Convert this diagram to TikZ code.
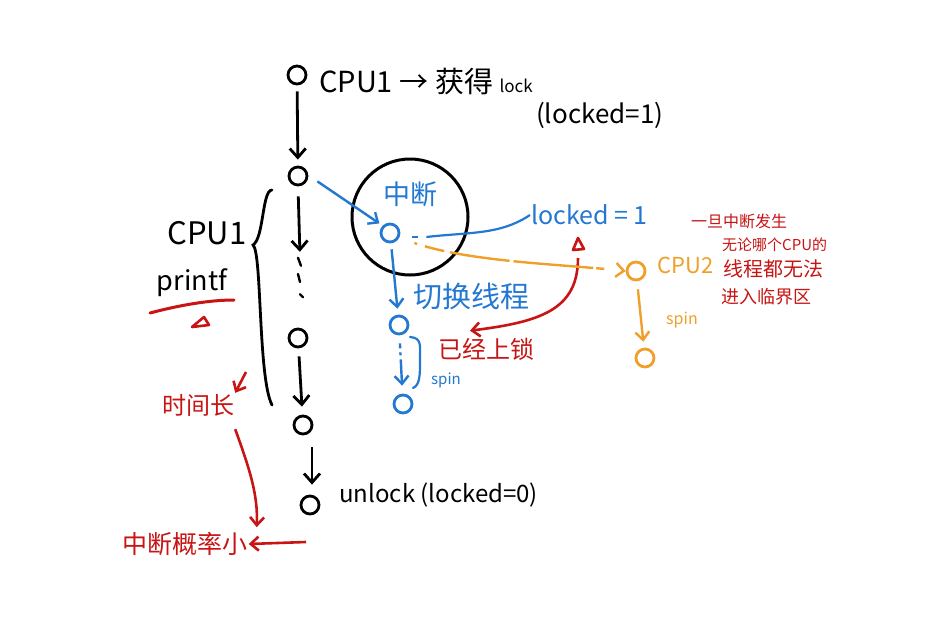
\documentclass[tikz,border=0pt]{standalone}
\usepackage{fontspec}
\newfontfamily\cjk{Noto Sans CJK SC}
\usetikzlibrary{arrows.meta,calc}
\definecolor{hblue}{RGB}{35,120,210}
\definecolor{horange}{RGB}{240,160,40}
\definecolor{hred}{RGB}{200,20,20}
\begin{document}
\begin{tikzpicture}[x=1pt,y=-1pt,
  every node/.style={font=\cjk, inner sep=1pt},
  pt/.style={draw, circle, line width=2.8pt, minimum size=18pt, inner sep=0pt},
  bpt/.style={pt, black},
  blpt/.style={pt, hblue},
  orpt/.style={pt, horange},
  barr/.style={draw=black, line width=2.8pt, -{Straight Barb[length=9pt,width=16pt]}},
  blarr/.style={draw=hblue, line width=2.4pt, -{Straight Barb[length=8pt,width=14pt]}},
  orarr/.style={draw=horange, line width=2.4pt, -{Straight Barb[length=8pt,width=14pt]}},
  rdarr/.style={draw=hred, line width=2.6pt, -{Straight Barb[length=8pt,width=14pt]}},
  blk/.style={text=black, font=\cjk\fontsize{24}{28}\selectfont},
  blu/.style={text=hblue, font=\cjk\fontsize{22}{26}\selectfont},
  org/.style={text=horange, font=\cjk\fontsize{20}{24}\selectfont},
  rdt/.style={text=hred, font=\cjk\fontsize{22}{26}\selectfont},
  note/.style={text=hred, font=\cjk\fontsize{15}{18}\selectfont, anchor=west}
]
\useasboundingbox[fill=white] (0,0) rectangle (945,629);

% black main chain
\node[bpt] (n1) at (297,75) {};
\node[bpt] (n2) at (298,176) {};
\node[minimum width=10pt, minimum height=44pt] (dots) at (300,278) {};
\node[bpt] (n3) at (298,338) {};
\node[bpt] (n4) at (303,425) {};
\node[bpt] (n5) at (310,505) {};
\draw[barr, shorten <=6pt, shorten >=6pt] (n1) -- (n2);
\draw[barr, shorten <=10pt, shorten >=4pt] (n2.south) -- (dots.north);
\draw[black, line width=2.4pt, line cap=round]
  ($(dots.north)+(-2,2)$) -- ++(3,8)
  ($(dots.center)+(-2,-4)$) -- ++(2,8)
  ($(dots.south)+(0,-6)$) -- ++(3,3);
\draw[barr, shorten <=8pt, shorten >=8pt] (n3) -- (n4);
\draw[barr, shorten <=12pt, shorten >=10pt] ($(n4.south)+(9,0)$) -- ($(n5.north)+(2,0)$);

% top text
\node[blk, anchor=west, font=\cjk\fontsize{29}{32}\selectfont] (t1) at (318,82) {CPU1 → 获得 {\fontsize{17}{20}\selectfont lock}};
\node[blk, anchor=west, font=\cjk\fontsize{26}{30}\selectfont] (t2) at (535,115) {(locked=1)};
\node[blk, anchor=west] (t5) at (338,495) {unlock (locked=0)};

% left side
\node[blk, font=\cjk\fontsize{31}{34}\selectfont] (cpu1) at (207,233) {CPU1};
\node[blk, font=\cjk\fontsize{27}{30}\selectfont] (pf) at (192,283) {printf};
\draw[black, line width=2.8pt, line cap=round]
  (272,190) .. controls (262,190) and (264,238) .. (253,245)
  .. controls (262,252) and (258,378) .. (272,405);
\draw[hred, line width=3pt, line cap=round] (150,313) .. controls (180,305) and (210,300) .. (234,300);
\coordinate (tr1) at (200,322);
\draw[hred, line width=2.6pt, line join=round] ($(tr1)+(-8,5)$) -- ($(tr1)+(4,-5)$) -- ($(tr1)+(9,3)$) -- cycle;

\node[rdt, font=\cjk\fontsize{24}{28}\selectfont] (tl) at (198,405) {时间长};
\coordinate (br) at (246,372);
\draw[rdarr] (br) -- (tl.north east);
\node[rdt, font=\cjk\fontsize{25}{28}\selectfont] (pr) at (185,544) {中断概率小};
\coordinate (pa) at (306,542);
\draw[rdarr] (pa) -- (pr.east);
\draw[rdarr] ($(tl.south east)+(0,12)$) .. controls (250,470) and (258,495) .. ($(pr.north east)+(8,-4)$);

% interrupt circle
\node[draw, circle, line width=3pt, minimum size=116pt] (irq) at (410,217) {};
\node[blpt] (b1) at (390,233) {};
\node[blu, font=\cjk\fontsize{27}{30}\selectfont] (zd) at (410,194) {中断};
\draw[blarr, shorten <=6pt, shorten >=4pt] ($(n2.east)+(4,2)$) -- (b1.north west);
\node[blu, font=\cjk\fontsize{25}{28}\selectfont, anchor=west] (lk) at (530,215) {locked = 1};
\draw[hblue, line width=2.2pt] ($(b1.east)+(12,4)$) -- ++(6,0);
\draw[hblue, line width=2.2pt] ($(b1.east)+(26,4)$) .. controls (470,232) and (500,235) .. (lk.west);

\node[blpt] (b2) at (399,325) {};
\node[blpt] (b3) at (403,404) {};
\draw[blarr, shorten <=6pt, shorten >=6pt] (b1) -- (b2);
\draw[blarr, shorten <=8pt, shorten >=8pt, dash pattern=on 5pt off 4pt on 3pt off 4pt on 30pt] (b2) -- (b3);
\node[blu, font=\cjk\fontsize{29}{32}\selectfont] (qh) at (471,296) {切换线程};
\draw[hblue, line width=2.2pt, line cap=round] (410,337) .. controls (422,338) and (420,345) .. (420,360)
  .. controls (420,375) and (420,385) .. (413,388);
\node[blu, font=\cjk\fontsize{15}{18}\selectfont] (sp1) at (446,380) {spin};

\node[rdt, font=\cjk\fontsize{24}{28}\selectfont] (ys) at (486,349) {已经上锁};
\coordinate (tr2) at (578,244);
\draw[hred, line width=2.6pt, line join=round] ($(tr2)+(-5,6)$) -- ($(tr2)+(0,-6)$) -- ($(tr2)+(6,5)$) -- cycle;
\draw[rdarr] ($(tr2)+(0,14)$) .. controls (578,310) and (540,322) .. ($(ys.north)+(-16,-6)$) ;

% CPU2 orange
\node[orpt] (c2) at (636,271) {};
\node[orpt] (c3) at (645,358) {};
\draw[orarr, dash pattern=on 3pt off 8pt on 20pt off 6pt on 60pt off 4pt on 80pt]
  ($(b1.east)+(14,10)$) .. controls (470,262) and (560,264) .. (c2.west);
\draw[orarr, shorten <=8pt, shorten >=6pt] (c2) -- (c3);
\node[org, anchor=west, font=\cjk\fontsize{22}{26}\selectfont] (cp2) at (656,265) {CPU2};
\node[org, font=\cjk\fontsize{16}{18}\selectfont] (sp2) at (682,320) {spin};

% red note
\node[note, font=\cjk\fontsize{16}{18}\selectfont] (m1) at (690,221) {一旦中断发生};
\node[note, font=\cjk\fontsize{15}{18}\selectfont] (m2) at (721,245) {无论哪个CPU的};
\node[note, font=\cjk\fontsize{20}{22}\selectfont] (m3) at (722,269) {线程都无法};
\node[note, font=\cjk\fontsize{18}{22}\selectfont] (m4) at (720,297) {进入临界区};
\end{tikzpicture}
\end{document}
